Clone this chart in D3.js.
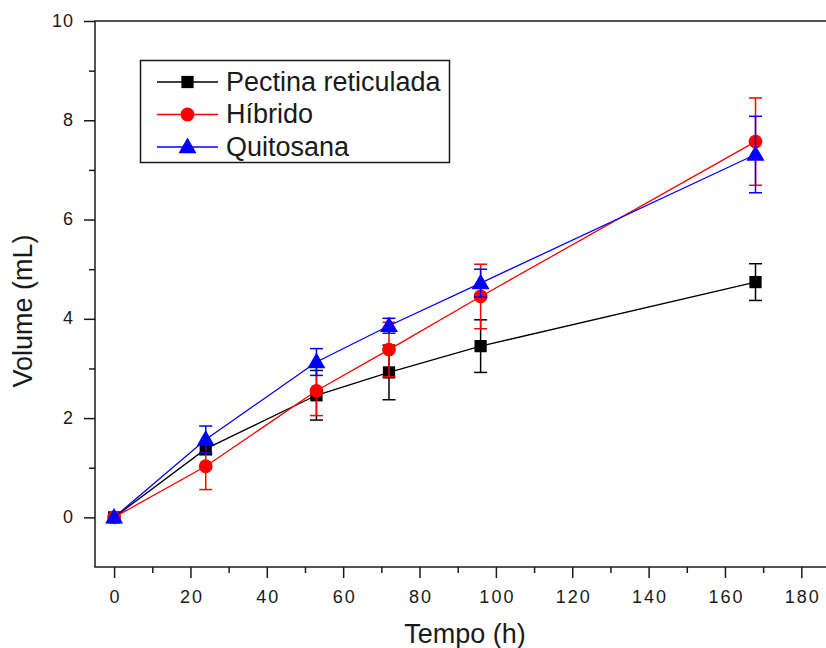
<!DOCTYPE html>
<html>
<head>
<meta charset="utf-8">
<script src="https://cdn.jsdelivr.net/npm/d3@7"></script>
<style>
  html, body { margin: 0; padding: 0; background: #fff; }
  svg { display: block; }
  text { font-family: "Liberation Sans", Arial, sans-serif; fill: #1a1a1a; }
</style>
</head>
<body>
<svg id="chart" width="826" height="648"></svg>
<script>
// Swelling volume over time for three hydrogel formulations
const times = [0, 24, 53, 72, 96, 168];
const seriesNames = ["Pectina reticulada", "Híbrido", "Quitosana"];
const seriesColors = ["#000000", "#ff0000", "#0000ff"];
const seriesSymbols = ["square", "circle", "triangle"];

const pectinaValues = [0, 1.38, 2.46, 2.92, 3.45, 4.74];
const pectinaErrors = [0, 0.12, 0.5, 0.55, 0.53, 0.37];
const hibridoValues = [0, 1.03, 2.55, 3.38, 4.45, 7.57];
const hibridoErrors = [0, 0.47, 0.5, 0.55, 0.65, 0.88];
const quitosanaValues = [0, 1.57, 3.13, 3.86, 4.72, 7.31];
const quitosanaErrors = [0, 0.27, 0.27, 0.15, 0.28, 0.77];

const xTicks = [0, 20, 40, 60, 80, 100, 120, 140, 160, 180];
const yTicks = [0, 2, 4, 6, 8, 10];

const series = [
  { name: seriesNames[0], values: pectinaValues, errors: pectinaErrors, color: seriesColors[0], symbol: seriesSymbols[0] },
  { name: seriesNames[1], values: hibridoValues, errors: hibridoErrors, color: seriesColors[1], symbol: seriesSymbols[1] },
  { name: seriesNames[2], values: quitosanaValues, errors: quitosanaErrors, color: seriesColors[2], symbol: seriesSymbols[2] }
];

const svg = d3.select("#chart");

const x = d3.scaleLinear().domain([-5, 190]).range([95, 95 + 195 * 3.818]);
const y = d3.scaleLinear().domain([-1, 10]).range([567, 21]);

// frame (top and left visible; right edge runs past the viewport)
svg.append("rect")
  .attr("x", x(-5)).attr("y", y(10))
  .attr("width", x(190) - x(-5)).attr("height", y(-1) - y(10))
  .attr("fill", "none").attr("stroke", "#1a1a1a").attr("stroke-width", 1.5);

// y axis
const yAxis = d3.axisLeft(y).tickValues(yTicks).tickSize(11).tickPadding(10).tickFormat(d3.format("d"));
const gy = svg.append("g").attr("transform", `translate(${x(-5)},0)`).call(yAxis);
gy.select(".domain").remove();
gy.selectAll(".tick line").attr("stroke", "#1a1a1a").attr("stroke-width", 1.5);
gy.selectAll(".tick text").style("font-size", "18px").attr("fill", "#1a1a1a")
  .attr("letter-spacing", "1px").attr("dy", "0.28em");
svg.append("g").attr("transform", `translate(${x(-5)},0)`)
  .call(d3.axisLeft(y).tickValues([1, 3, 5, 7, 9]).tickSize(6).tickFormat(""))
  .call(g => g.select(".domain").remove())
  .selectAll(".tick line").attr("stroke", "#1a1a1a").attr("stroke-width", 1.5);

// x axis
const xAxis = d3.axisBottom(x).tickValues(xTicks).tickSize(11).tickPadding(12).tickFormat(d3.format("d"));
const gx = svg.append("g").attr("transform", `translate(0,${y(-1)})`).call(xAxis);
gx.select(".domain").remove();
gx.selectAll(".tick line").attr("stroke", "#1a1a1a").attr("stroke-width", 1.5);
gx.selectAll(".tick text").style("font-size", "18px").attr("fill", "#1a1a1a")
  .attr("letter-spacing", "2px").attr("dx", "1px");
svg.append("g").attr("transform", `translate(0,${y(-1)})`)
  .call(d3.axisBottom(x).tickValues([10, 30, 50, 70, 90, 110, 130, 150, 170]).tickSize(6).tickFormat(""))
  .call(g => g.select(".domain").remove())
  .selectAll(".tick line").attr("stroke", "#1a1a1a").attr("stroke-width", 1.5);

// axis titles
svg.append("text").attr("x", 465).attr("y", 643).attr("text-anchor", "middle")
  .style("font-size", "27px").text("Tempo (h)");
svg.append("text").attr("transform", "translate(32,311) rotate(-90)").attr("text-anchor", "middle")
  .style("font-size", "27px").text("Volume (mL)");

function symbolPath(kind) {
  if (kind === "square") return d3.symbol(d3.symbolSquare, 150)();
  if (kind === "circle") return d3.symbol(d3.symbolCircle, 150)();
  return d3.symbol(d3.symbolTriangle, 140)();
}

const line = d3.line().x(d => x(d.t)).y(d => y(d.v));
const capHalf = 6.5;

series.forEach(s => {
  const pts = times.map((t, i) => ({ t, v: s.values[i], e: s.errors[i] }));
  const g = svg.append("g");
  g.append("path").datum(pts).attr("d", line)
    .attr("fill", "none").attr("stroke", s.color).attr("stroke-width", 1.3);
  const eb = g.selectAll(".eb").data(pts.filter(p => p.e > 0)).join("g");
  eb.append("line")
    .attr("x1", d => x(d.t)).attr("x2", d => x(d.t))
    .attr("y1", d => y(d.v + d.e)).attr("y2", d => y(d.v - d.e))
    .attr("stroke", s.color).attr("stroke-width", 1.5);
  [1, -1].forEach(sign => {
    eb.append("line")
      .attr("x1", d => x(d.t) - capHalf).attr("x2", d => x(d.t) + capHalf)
      .attr("y1", d => y(d.v + sign * d.e)).attr("y2", d => y(d.v + sign * d.e))
      .attr("stroke", s.color).attr("stroke-width", 1.5);
  });
  g.selectAll(".mk").data(pts).join("path")
    .attr("d", symbolPath(s.symbol))
    .attr("transform", d => `translate(${x(d.t)},${y(d.v) + (s.symbol === "triangle" ? 1 : 0)})`)
    .attr("fill", s.color);
});

// legend
const lg = svg.append("g");
lg.append("rect").attr("x", 140.5).attr("y", 60.5).attr("width", 309).attr("height", 102)
  .attr("fill", "#fff").attr("stroke", "#1a1a1a").attr("stroke-width", 1.5);
series.forEach((s, i) => {
  const cy = 82 + i * 32.5;
  lg.append("line").attr("x1", 157).attr("x2", 218).attr("y1", cy).attr("y2", cy)
    .attr("stroke", s.color).attr("stroke-width", 1.3);
  lg.append("path").attr("d", symbolPath(s.symbol))
    .attr("transform", `translate(187.5,${cy + (s.symbol === "triangle" ? 1 : 0)})`)
    .attr("fill", s.color);
  lg.append("text").attr("x", 226).attr("y", cy + 8.5).style("font-size", "27px").text(s.name);
});
</script>
</body>
</html>
